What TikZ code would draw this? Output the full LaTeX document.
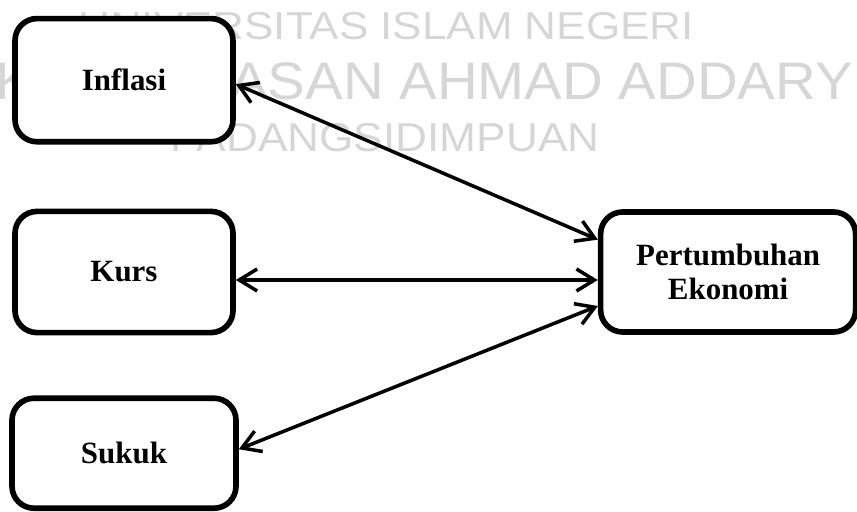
\documentclass[tikz,border=0pt]{standalone}
\usepackage{fontspec}
\setmainfont{Liberation Serif}
\newfontfamily\wmfont{Liberation Sans}
\usetikzlibrary{arrows.meta,positioning,calc}

\begin{document}
\begin{tikzpicture}[
  font=\fontsize{22}{24}\selectfont\bfseries,
  >={Straight Barb[length=0.45cm,width=0.55cm]},
  block/.style={draw, line width=4pt, rounded corners=0.55cm, fill=white, minimum width=5.45cm, minimum height=3.03cm, align=center},
  link/.style={<->, line width=2.5pt},
  wmark/.style={text=black!16, inner sep=0pt, font=\wmfont},
]
\useasboundingbox (0,0) rectangle (21.425,-12.8);
\clip (0,0) rectangle (21.425,-12.8);

% Watermark behind the blocks
\node[wmark, anchor=base]      (wm1) at (9.65,-1.0)  {\fontsize{27.7}{30}\selectfont\scalebox{1.13}[1]{UNIVERSITAS ISLAM NEGERI}};
\node[wmark, anchor=base west] (wm2) at (-2.95,-2.5) {\fontsize{37.6}{40}\selectfont\scalebox{1.067}[1]{SYEKH ALI HASAN AHMAD ADDARY}};
\node[wmark, anchor=base]      (wm3) at (9.625,-3.8) {\fontsize{28.7}{30}\selectfont\scalebox{1.096}[1]{PADANGSIDIMPUAN}};

% Blocks
\node[block]                                                          (Kurs)    at (3.1,-6.8) {Kurs};
\node[block, above=1.6cm of Kurs, minimum height=3.08cm]                (Inflasi)               {Inflasi};
\node[block, below=1.5cm of Kurs, minimum width=5.6cm, minimum height=2.75cm] (Sukuk)           {Sukuk};
\node[block, right=9.05cm of Kurs, minimum width=6.375cm, minimum height=3.0cm] (PE)            {Pertumbuhan\\Ekonomi};

% Two-way links into Pertumbuhan Ekonomi
\draw[link] ($(Inflasi.east) + (0, -0.1)$) -- ($(PE.west) + (0, 0.81)$);
\draw[link] ($(Kurs.east) + (0, -0.2)$)    -- ($(PE.west) + (0, -0.2)$);
\draw[link] ($(Sukuk.east) + (0, 0.1)$)    -- ($(PE.west) + (0, -0.85)$);

\end{tikzpicture}
\end{document}
